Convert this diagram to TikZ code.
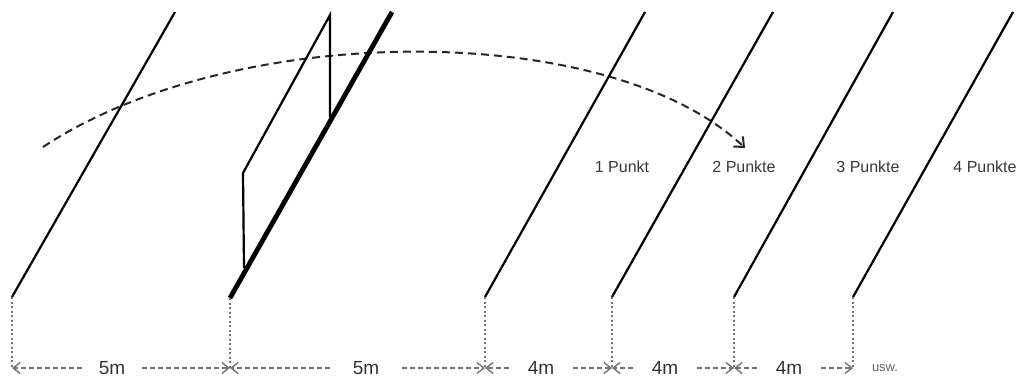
\documentclass[tikz,border=0pt]{standalone}
\usepackage{fontspec}
\setmainfont{Liberation Sans}
\usetikzlibrary{arrows.meta}
\begin{document}
\begin{tikzpicture}[x=1pt,y=-1pt,
  bar/.style={line width=2.2pt,black},
  thickbar/.style={line width=4.8pt,black},
  frame/.style={line width=2.2pt,black,line join=miter},
  guide/.style={black!55,line width=1.5pt,dash pattern=on 2pt off 2.5pt},
  dim/.style={black!55,line width=1.3pt,dash pattern=on 5pt off 3pt,-{Straight Barb[length=7pt,width=11pt,line width=1.4pt]}},
  jump/.style={black!85,line width=2pt,dash pattern=on 8pt off 5pt,-{Straight Barb[length=8pt,width=14pt,line width=2pt]}},
  dimlabel/.style={text=black!80,font=\fontsize{19}{21}\selectfont,inner ysep=0pt,inner xsep=17pt},
  ptlabel/.style={text=black!78,font=\fontsize{16}{18}\selectfont,inner sep=0pt}]
\useasboundingbox (0,0) rectangle (1019,381);
% line ends
\coordinate (b1) at (12,297);  \coordinate (t1) at (175,12);
\coordinate (b2) at (230,298); \coordinate (t2) at (392,12);
\coordinate (b3) at (485,297); \coordinate (t3) at (645,12);
\coordinate (b4) at (612,297); \coordinate (t4) at (773,12);
\coordinate (b5) at (734,297); \coordinate (t5) at (893,12);
\coordinate (b6) at (853,297); \coordinate (t6) at (1013,12);
% dimension level
\coordinate (d1) at (12,368);
\coordinate (d2) at (230,368);
\coordinate (d3) at (485,368);
\coordinate (d4) at (612,368);
\coordinate (d5) at (734,368);
\coordinate (d6) at (853,368);
% parallelogram corners
\coordinate (pt) at (330,15);
\coordinate (pm) at (330,117);
\coordinate (pl) at (243,173);
\coordinate (pb) at (244,268);
% curve
\coordinate (cs) at (43,147);
\coordinate (ce) at (745,148);
\draw[jump] (cs) .. controls (235,20) and (610,20) .. (ce);
% bars
\draw[bar] (b1) -- (t1);
\draw[thickbar] (b2) -- (t2);
\draw[frame] (pb) -- (pl) -- (pt) -- (pm);
\draw[bar] (b3) -- (t3);
\draw[bar] (b4) -- (t4);
\draw[bar] (b5) -- (t5);
\draw[bar] (b6) -- (t6);
% guides
\foreach \i in {1,...,6} \draw[guide] (b\i) -- (d\i);
% dimension labels
\node[dimlabel] (m1) at (112,368) {5m};
\node[dimlabel,inner xsep=23pt] (m2) at (366,368) {5m};
\node[dimlabel,inner xsep=19pt] (m3) at (541,368) {4m};
\node[dimlabel,inner xsep=19pt] (m4) at (665,368) {4m};
\node[dimlabel,inner xsep=19pt] (m5) at (789,368) {4m};
\node[text=black!60,font=\fontsize{13}{15}\selectfont,inner sep=0pt] (usw) at (885,368) {usw.};
\draw[dim] (m1.west) -- (d1);
\draw[dim] (m1.east) -- (d2);
\draw[dim] (m2.west) -- (d2);
\draw[dim] (m2.east) -- (d3);
\draw[dim] (m3.west) -- (d3);
\draw[dim] (m3.east) -- (d4);
\draw[dim] (m4.west) -- (d4);
\draw[dim] (m4.east) -- (d5);
\draw[dim] (m5.west) -- (d5);
\draw[dim] (m5.east) -- (d6);
% point labels
\node[ptlabel] (p1) at (622,167) {1 Punkt};
\node[ptlabel] (p2) at (744,167) {2 Punkte};
\node[ptlabel] (p3) at (868,167) {3 Punkte};
\node[ptlabel] (p4) at (985,167) {4 Punkte};
\end{tikzpicture}
\end{document}
